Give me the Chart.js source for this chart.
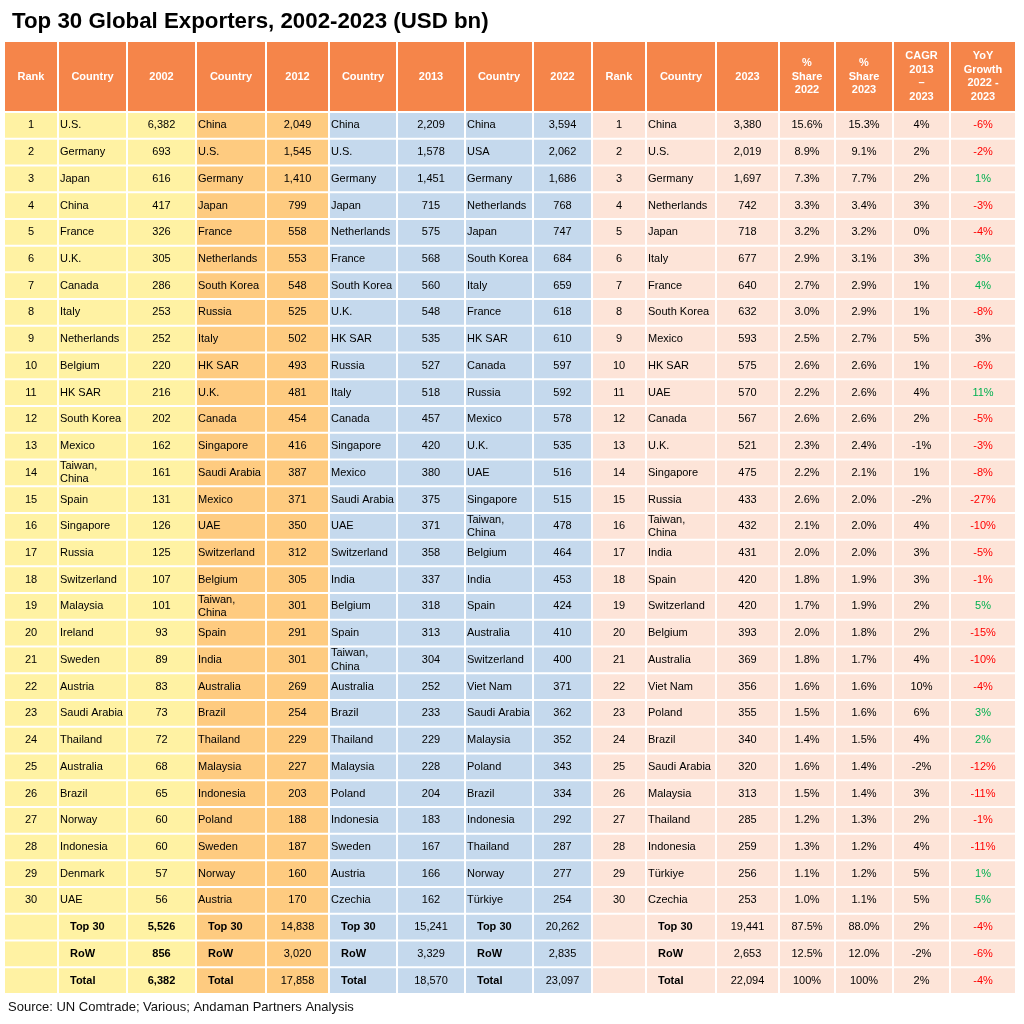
<!DOCTYPE html>
<html>
<head>
<meta charset="utf-8">
<title>Top 30 Global Exporters, 2002-2023 (USD bn)</title>
<script src="https://cdn.jsdelivr.net/npm/chart.js@4.4.1/dist/chart.umd.min.js"></script>
<style>
  html, body { margin: 0; padding: 0; background: #fff; }
  #wrap { position: relative; width: 1024px; height: 1024px; }
</style>
</head>
<body>
<div id="wrap"><canvas id="exporters-table"></canvas></div>
<script>
const ranks = [1, 2, 3, 4, 5, 6, 7, 8, 9, 10, 11, 12, 13, 14, 15, 16, 17, 18, 19, 20, 21, 22, 23, 24, 25, 26, 27, 28, 29, 30];

const countries2002 = ['U.S.', 'Germany', 'Japan', 'China', 'France', 'U.K.', 'Canada', 'Italy', 'Netherlands', 'Belgium',
  'HK SAR', 'South Korea', 'Mexico', 'Taiwan, China', 'Spain', 'Singapore', 'Russia', 'Switzerland', 'Malaysia', 'Ireland',
  'Sweden', 'Austria', 'Saudi Arabia', 'Thailand', 'Australia', 'Brazil', 'Norway', 'Indonesia', 'Denmark', 'UAE'];
const exports2002 = [6382, 693, 616, 417, 326, 305, 286, 253, 252, 220, 216, 202, 162, 161, 131, 126, 125, 107, 101, 93,
  89, 83, 73, 72, 68, 65, 60, 60, 57, 56];

const countries2012 = ['China', 'U.S.', 'Germany', 'Japan', 'France', 'Netherlands', 'South Korea', 'Russia', 'Italy', 'HK SAR',
  'U.K.', 'Canada', 'Singapore', 'Saudi Arabia', 'Mexico', 'UAE', 'Switzerland', 'Belgium', 'Taiwan, China', 'Spain',
  'India', 'Australia', 'Brazil', 'Thailand', 'Malaysia', 'Indonesia', 'Poland', 'Sweden', 'Norway', 'Austria'];
const exports2012 = [2049, 1545, 1410, 799, 558, 553, 548, 525, 502, 493, 481, 454, 416, 387, 371, 350, 312, 305, 301, 291,
  301, 269, 254, 229, 227, 203, 188, 187, 160, 170];

const countries2013 = ['China', 'U.S.', 'Germany', 'Japan', 'Netherlands', 'France', 'South Korea', 'U.K.', 'HK SAR', 'Russia',
  'Italy', 'Canada', 'Singapore', 'Mexico', 'Saudi Arabia', 'UAE', 'Switzerland', 'India', 'Belgium', 'Spain',
  'Taiwan, China', 'Australia', 'Brazil', 'Thailand', 'Malaysia', 'Poland', 'Indonesia', 'Sweden', 'Austria', 'Czechia'];
const exports2013 = [2209, 1578, 1451, 715, 575, 568, 560, 548, 535, 527, 518, 457, 420, 380, 375, 371, 358, 337, 318, 313,
  304, 252, 233, 229, 228, 204, 183, 167, 166, 162];

const countries2022 = ['China', 'USA', 'Germany', 'Netherlands', 'Japan', 'South Korea', 'Italy', 'France', 'HK SAR', 'Canada',
  'Russia', 'Mexico', 'U.K.', 'UAE', 'Singapore', 'Taiwan, China', 'Belgium', 'India', 'Spain', 'Australia',
  'Switzerland', 'Viet Nam', 'Saudi Arabia', 'Malaysia', 'Poland', 'Brazil', 'Indonesia', 'Thailand', 'Norway', 'Türkiye'];
const exports2022 = [3594, 2062, 1686, 768, 747, 684, 659, 618, 610, 597, 592, 578, 535, 516, 515, 478, 464, 453, 424, 410,
  400, 371, 362, 352, 343, 334, 292, 287, 277, 254];

const countries2023 = ['China', 'U.S.', 'Germany', 'Netherlands', 'Japan', 'Italy', 'France', 'South Korea', 'Mexico', 'HK SAR',
  'UAE', 'Canada', 'U.K.', 'Singapore', 'Russia', 'Taiwan, China', 'India', 'Spain', 'Switzerland', 'Belgium',
  'Australia', 'Viet Nam', 'Poland', 'Brazil', 'Saudi Arabia', 'Malaysia', 'Thailand', 'Indonesia', 'Türkiye', 'Czechia'];
const exports2023 = [3380, 2019, 1697, 742, 718, 677, 640, 632, 593, 575, 570, 567, 521, 475, 433, 432, 431, 420, 420, 393,
  369, 356, 355, 340, 320, 313, 285, 259, 256, 253];
const share2022 = [15.6, 8.9, 7.3, 3.3, 3.2, 2.9, 2.7, 3.0, 2.5, 2.6, 2.2, 2.6, 2.3, 2.2, 2.6, 2.1, 2.0, 1.8, 1.7, 2.0,
  1.8, 1.6, 1.5, 1.4, 1.6, 1.5, 1.2, 1.3, 1.1, 1.0];
const share2023 = [15.3, 9.1, 7.7, 3.4, 3.2, 3.1, 2.9, 2.9, 2.7, 2.6, 2.6, 2.6, 2.4, 2.1, 2.0, 2.0, 2.0, 1.9, 1.9, 1.8,
  1.7, 1.6, 1.6, 1.5, 1.4, 1.4, 1.3, 1.2, 1.2, 1.1];
const cagr2013to2023 = [4, 2, 2, 3, 0, 3, 1, 1, 5, 1, 4, 2, -1, 1, -2, 4, 3, 3, 2, 2,
  4, 10, 6, 4, -2, 3, 2, 4, 5, 5];
const yoy2022to2023 = [-6, -2, 1, -3, -4, 3, 4, -8, 3, -6, 11, -5, -3, -8, -27, -10, -5, -1, 5, -15,
  -10, -4, 3, 2, -12, -11, -1, -11, 1, 5];

const summaryLabels = ['Top 30', 'RoW', 'Total'];
const summary2002 = [5526, 856, 6382];
const summary2012 = [14838, 3020, 17858];
const summary2013 = [15241, 3329, 18570];
const summary2022 = [20262, 2835, 23097];
const summary2023 = [19441, 2653, 22094];
const summaryShare2022 = [87.5, 12.5, 100];
const summaryShare2023 = [88.0, 12.0, 100];
const summaryCagr = [2, -2, 2];
const summaryYoy = [-4, -6, -4];

const headers = ['Rank', 'Country', '2002', 'Country', '2012', 'Country', '2013', 'Country', '2022',
  'Rank', 'Country', '2023', ['%', 'Share', '2022'], ['%', 'Share', '2023'],
  ['CAGR', '2013', '–', '2023'], ['YoY', 'Growth', '2022 -', '2023']];

// ---- layout & style ----
const FONT = "'Liberation Sans', Arial, sans-serif";
const COL_WIDTHS = [54, 69, 69, 70, 63, 68, 68, 68, 59, 54, 70, 63, 56, 58, 57, 66];
const HEADER_TOP = 41;
const HEADER_FILL = '#F5854A';
const YELLOW = '#FFF2A3';
const ORANGE = '#FECB80';
const BLUE = '#C5D9ED';
const PINK = '#FDE4D8';
const RED = '#FF0000';
const GREEN = '#00B050';
const YOY_PLAIN = ['Mexico']; // shown in black in the source

const fmt = v => v.toLocaleString('en-US');
const pct1 = v => (v === 100 ? '100' : v.toFixed(1)) + '%';
const pct0 = v => v + '%';
const yoyColor = (v, name) => (name && YOY_PLAIN.includes(name)) ? '#000' : (v < 0 ? RED : GREEN);

// one entry per table column
const columns = [
  { fill: YELLOW, body: i => ({ text: String(ranks[i]) }), sum: () => ({ text: '' }) },
  { fill: YELLOW, name: true, body: i => ({ text: countries2002[i] }), sum: i => ({ text: summaryLabels[i], bold: true }) },
  { fill: YELLOW, body: i => ({ text: fmt(exports2002[i]) }), sum: i => ({ text: fmt(summary2002[i]), bold: true }) },
  { fill: ORANGE, name: true, body: i => ({ text: countries2012[i] }), sum: i => ({ text: summaryLabels[i], bold: true }) },
  { fill: ORANGE, body: i => ({ text: fmt(exports2012[i]) }), sum: i => ({ text: fmt(summary2012[i]) }) },
  { fill: BLUE, name: true, body: i => ({ text: countries2013[i] }), sum: i => ({ text: summaryLabels[i], bold: true }) },
  { fill: BLUE, body: i => ({ text: fmt(exports2013[i]) }), sum: i => ({ text: fmt(summary2013[i]) }) },
  { fill: BLUE, name: true, body: i => ({ text: countries2022[i] }), sum: i => ({ text: summaryLabels[i], bold: true }) },
  { fill: BLUE, body: i => ({ text: fmt(exports2022[i]) }), sum: i => ({ text: fmt(summary2022[i]) }) },
  { fill: PINK, body: i => ({ text: String(ranks[i]) }), sum: () => ({ text: '' }) },
  { fill: PINK, name: true, body: i => ({ text: countries2023[i] }), sum: i => ({ text: summaryLabels[i], bold: true }) },
  { fill: PINK, body: i => ({ text: fmt(exports2023[i]) }), sum: i => ({ text: fmt(summary2023[i]) }) },
  { fill: PINK, body: i => ({ text: pct1(share2022[i]) }), sum: i => ({ text: pct1(summaryShare2022[i]) }) },
  { fill: PINK, body: i => ({ text: pct1(share2023[i]) }), sum: i => ({ text: pct1(summaryShare2023[i]) }) },
  { fill: PINK, body: i => ({ text: pct0(cagr2013to2023[i]) }), sum: i => ({ text: pct0(summaryCagr[i]) }) },
  { fill: PINK, body: i => ({ text: pct0(yoy2022to2023[i]), color: yoyColor(yoy2022to2023[i], countries2023[i]) }),
    sum: i => ({ text: pct0(summaryYoy[i]), color: yoyColor(summaryYoy[i]) }) },
];

const rowKeys = ranks.map(String).concat(summaryLabels);
const TOTAL_WIDTH = COL_WIDTHS.reduce((a, b) => a + b, 0);

function wrapText(ctx, text, maxWidth) {
  if (ctx.measureText(text).width <= maxWidth) return [text];
  const words = text.split(' ');
  const lines = [];
  let line = '';
  words.forEach(w => {
    const test = line ? line + ' ' + w : w;
    if (line && ctx.measureText(test).width > maxWidth) {
      lines.push(line);
      line = w;
    } else {
      line = test;
    }
  });
  if (line) lines.push(line);
  return lines;
}

function drawLines(ctx, lines, x, cy, lineHeight) {
  let y = cy - (lines.length - 1) * lineHeight / 2;
  lines.forEach(l => { ctx.fillText(l, x, y); y += lineHeight; });
}

const tablePlugin = {
  id: 'tableText',
  afterDatasetsDraw(chart) {
    const ctx = chart.ctx;
    const xScale = chart.scales.x;
    const top = chart.chartArea.top;
    ctx.save();

    // header row
    let cum = 0;
    columns.forEach((col, c) => {
      const x0 = xScale.getPixelForValue(cum);
      cum += COL_WIDTHS[c];
      const x1 = xScale.getPixelForValue(cum);
      ctx.fillStyle = HEADER_FILL;
      ctx.fillRect(x0 + 1, HEADER_TOP + 1, x1 - x0 - 2, top - HEADER_TOP - 2);
      ctx.fillStyle = '#fff';
      ctx.font = 'bold 11px ' + FONT;
      ctx.textAlign = 'center';
      ctx.textBaseline = 'middle';
      const lines = Array.isArray(headers[c]) ? headers[c] : [headers[c]];
      drawLines(ctx, lines, (x0 + x1) / 2, (HEADER_TOP + top) / 2, 13.9);
    });

    // body cells
    columns.forEach((col, c) => {
      const meta = chart.getDatasetMeta(c);
      meta.data.forEach((el, r) => {
        const p = el.getProps(['x', 'y', 'base'], true);
        const left = Math.min(p.x, p.base);
        const right = Math.max(p.x, p.base);
        const isSum = r >= ranks.length;
        const cell = isSum ? col.sum(r - ranks.length) : col.body(r);
        if (!cell.text) return;
        ctx.font = (cell.bold ? 'bold ' : '') + '11px ' + FONT;
        ctx.fillStyle = cell.color || '#000';
        ctx.textBaseline = 'middle';
        const lines = wrapText(ctx, cell.text, right - left - 2);
        if (col.name) {
          ctx.textAlign = 'left';
          drawLines(ctx, lines, left + (isSum ? 12 : 2), p.y, 13.3);
        } else {
          ctx.textAlign = 'center';
          drawLines(ctx, lines, (left + right) / 2, p.y, 13.3);
        }
      });
    });

    // title and source
    ctx.textAlign = 'left';
    ctx.textBaseline = 'alphabetic';
    ctx.fillStyle = '#000';
    ctx.font = 'bold 22.3px ' + FONT;
    ctx.fillText('Top 30 Global Exporters, 2002-2023 (USD bn)', 12, 28);
    ctx.fillStyle = '#111';
    ctx.font = '13px ' + FONT;
    ctx.fillText('Source: UN Comtrade; Various; Andaman Partners Analysis', 8, 1011);
    ctx.restore();
  }
};

const ctx = document.getElementById('exporters-table').getContext('2d');
new Chart(ctx, {
  type: 'bar',
  data: {
    labels: rowKeys,
    datasets: columns.map((col, c) => ({
      label: 'col' + c,
      data: rowKeys.map(() => COL_WIDTHS[c]),
      backgroundColor: col.fill,
      borderColor: '#fff',
      borderWidth: 1,
      borderSkipped: false,
      inflateAmount: 0,
      barPercentage: 1,
      categoryPercentage: 1,
    })),
  },
  options: {
    indexAxis: 'y',
    responsive: true,
    maintainAspectRatio: false,
    animation: false,
    events: [],
    layout: { padding: { top: 112, bottom: 30, left: 4, right: 8 } },
    plugins: {
      legend: { display: false },
      tooltip: { enabled: false },
      title: { display: false },
    },
    scales: {
      x: { type: 'linear', stacked: true, min: 0, max: TOTAL_WIDTH, display: false },
      y: { type: 'category', stacked: true, display: false },
    },
  },
  plugins: [tablePlugin],
});
</script>
</body>
</html>
